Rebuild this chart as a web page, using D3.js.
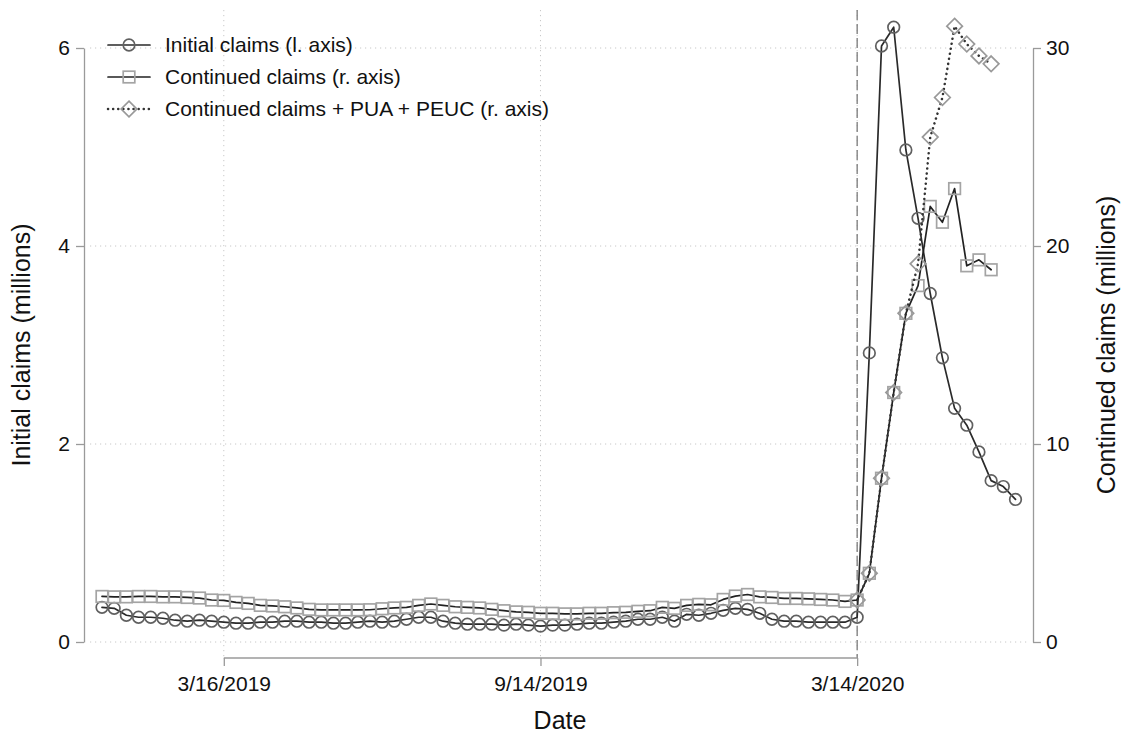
<!DOCTYPE html>
<html>
<head>
<meta charset="utf-8">
<script src="https://cdn.jsdelivr.net/npm/d3@7"></script>
<style>
  body { margin: 0; background: #fff; }
  svg { display: block; }
  text { font-family: "Liberation Sans", Arial, Helvetica, sans-serif; fill: #111; }
</style>
</head>
<body>
<svg id="chart" width="1127" height="736"></svg>
<script>
// Weekly series, first week ending 2019-01-05
const firstWeek = "2019-01-05";

// Initial claims, millions (left axis), weeks ending 1/5/2019 .. 6/13/2020
const initialClaims = [
  0.35, 0.34, 0.27, 0.25, 0.25, 0.24, 0.22, 0.21, 0.22, 0.21,
  0.20, 0.19, 0.19, 0.20, 0.20, 0.21, 0.21, 0.20, 0.20, 0.19,
  0.19, 0.20, 0.21, 0.20, 0.21, 0.23, 0.25, 0.25, 0.21, 0.19,
  0.18, 0.18, 0.18, 0.17, 0.18, 0.17, 0.16, 0.17, 0.17, 0.18,
  0.19, 0.19, 0.20, 0.21, 0.23, 0.23, 0.25, 0.21, 0.28, 0.27,
  0.29, 0.32, 0.34, 0.33, 0.29, 0.23, 0.21, 0.21, 0.20, 0.20,
  0.20, 0.20, 0.25, 2.92, 6.02, 6.21, 4.97, 4.28, 3.52, 2.87,
  2.36, 2.19, 1.92, 1.63, 1.57, 1.44
];

// Continued claims, millions (right axis), weeks ending 1/5/2019 .. 5/30/2020
const continuedClaims = [
  2.30, 2.28, 2.28, 2.30, 2.30, 2.28, 2.28, 2.25, 2.22, 2.12,
  2.10, 2.00, 1.95, 1.85, 1.82, 1.78, 1.72, 1.65, 1.62, 1.62,
  1.62, 1.62, 1.63, 1.68, 1.72, 1.75, 1.85, 1.92, 1.85, 1.78,
  1.75, 1.72, 1.65, 1.58, 1.52, 1.50, 1.45, 1.45, 1.42, 1.42,
  1.45, 1.45, 1.48, 1.50, 1.55, 1.58, 1.75, 1.70, 1.85, 1.90,
  1.88, 2.15, 2.32, 2.40, 2.28, 2.25, 2.20, 2.20, 2.18, 2.15,
  2.12, 2.05, 2.12, 3.47, 8.27, 12.6, 16.6, 18.0, 22.0, 21.2,
  22.9, 19.0, 19.3, 18.8
];

// Continued claims + PUA + PEUC, millions (right axis), weeks ending 3/14/2020 .. 5/30/2020
const pandemicFirstWeek = "2020-03-14";
const continuedPlusPUA = [
  2.12, 3.47, 8.27, 12.6, 16.6, 19.1, 25.5, 27.5, 31.1, 30.2, 29.6, 29.2
];

const leftTicks = [0, 2, 4, 6];
const rightTicks = [0, 10, 20, 30];
const dateTicks = ["2019-03-16", "2019-09-14", "2020-03-14"];
const markerDate = "2020-03-14";

const legendLabels = [
  "Initial claims (l. axis)",
  "Continued claims (r. axis)",
  "Continued claims + PUA + PEUC (r. axis)"
];
const xTitle = "Date";
const leftTitle = "Initial claims (millions)";
const rightTitle = "Continued claims (millions)";

// ---- helpers -------------------------------------------------------------
const parse = d3.utcParse("%Y-%m-%d");
const weekly = (start, values) => values.map((v, i) => ({
  date: d3.utcDay.offset(parse(start), 7 * i), value: v
}));

const seriesInitial = weekly(firstWeek, initialClaims);
const seriesContinued = weekly(firstWeek, continuedClaims);
const seriesPUA = weekly(pandemicFirstWeek, continuedPlusPUA);

// ---- layout --------------------------------------------------------------
const plot = { left: 90, right: 1028, top: 10, bottom: 658 };
const svg = d3.select("#chart");

const x = d3.scaleUtc()
  .domain([parse(firstWeek), seriesInitial[seriesInitial.length - 1].date])
  .range([102, 1015.5]);
const yL = d3.scaleLinear().domain([0, 6]).range([642, 48]);
const yR = d3.scaleLinear().domain([0, 30]).range([642, 48]);

const gridColor = "#c8c8c8";
const axisColor = "#9a9a9a";
const tickFont = 21;
const titleFont = 25;

// grid
const grid = svg.append("g");
grid.selectAll("line.h").data(leftTicks).join("line")
  .attr("x1", plot.left).attr("x2", plot.right)
  .attr("y1", d => yL(d)).attr("y2", d => yL(d))
  .attr("stroke", gridColor).attr("stroke-width", 1)
  .attr("stroke-dasharray", "1.2,3.8");
grid.selectAll("line.v").data(dateTicks.map(parse)).join("line")
  .attr("x1", d => x(d)).attr("x2", d => x(d))
  .attr("y1", plot.top).attr("y2", plot.bottom)
  .attr("stroke", gridColor).attr("stroke-width", 1)
  .attr("stroke-dasharray", "1.2,3.8");

// reference line at 3/14/2020
svg.append("line")
  .attr("x1", x(parse(markerDate))).attr("x2", x(parse(markerDate)))
  .attr("y1", plot.top).attr("y2", plot.bottom)
  .attr("stroke", "#7a7a7a").attr("stroke-width", 1.3)
  .attr("stroke-dasharray", "10,4");

// axes
function styleAxis(g) {
  g.select(".domain").attr("stroke", axisColor).attr("stroke-width", 1.3);
  g.selectAll(".tick line").attr("stroke", axisColor).attr("stroke-width", 1.3);
  g.selectAll(".tick text").attr("font-size", tickFont).attr("fill", "#111")
    .attr("font-family", "Liberation Sans, Arial, sans-serif");
}

svg.append("g").attr("transform", "translate(84,0)")
  .call(d3.axisLeft(yL).tickValues(leftTicks).tickFormat(d3.format("d"))
    .tickSize(8).tickSizeOuter(0).tickPadding(6))
  .call(styleAxis);

svg.append("g").attr("transform", "translate(1033,0)")
  .call(d3.axisRight(yR).tickValues(rightTicks).tickFormat(d3.format("d"))
    .tickSize(8).tickSizeOuter(0).tickPadding(5))
  .call(styleAxis);

const xAxisG = svg.append("g").attr("transform", `translate(0,${plot.bottom})`)
  .call(d3.axisBottom(x).tickValues(dateTicks.map(parse))
    .tickFormat(d3.utcFormat("%-m/%-d/%Y")).tickSize(8).tickSizeOuter(0).tickPadding(10))
  .call(styleAxis);
xAxisG.select(".domain").remove();
xAxisG.append("line")
  .attr("x1", x(parse(dateTicks[0]))).attr("x2", x(parse(dateTicks[dateTicks.length - 1])))
  .attr("stroke", axisColor).attr("stroke-width", 1.3);

// titles
svg.append("text").attr("x", 560).attr("y", 729).attr("text-anchor", "middle")
  .attr("font-size", titleFont).text(xTitle);
svg.append("text").attr("transform", "translate(30,345) rotate(-90)")
  .attr("text-anchor", "middle").attr("font-size", titleFont).text(leftTitle);
svg.append("text").attr("transform", "translate(1115,345) rotate(-90)")
  .attr("text-anchor", "middle").attr("font-size", titleFont).text(rightTitle);

// ---- marks ---------------------------------------------------------------
const styles = {
  initial: { line: "#2a2a2a", width: 1.7, dash: null, marker: "#606060", shape: "circle" },
  continued: { line: "#222", width: 1.7, dash: null, marker: "#a4a4a4", shape: "square" },
  pua: { line: "#333", width: 2.5, dash: "0.1,5", marker: "#999", shape: "diamond" }
};

function drawMarker(g, shape, color) {
  if (shape === "circle") {
    g.append("circle").attr("r", 5.8).attr("fill", "none")
      .attr("stroke", color).attr("stroke-width", 1.7);
  } else if (shape === "square") {
    g.append("rect").attr("x", -5.8).attr("y", -5.8).attr("width", 11.6).attr("height", 11.6)
      .attr("fill", "none").attr("stroke", color).attr("stroke-width", 1.7);
  } else {
    g.append("path").attr("d", "M0,-7.8L7.8,0L0,7.8L-7.8,0Z")
      .attr("fill", "none").attr("stroke", color).attr("stroke-width", 1.7);
  }
}

function drawSeries(data, yScale, st) {
  const line = d3.line().x(d => x(d.date)).y(d => yScale(d.value));
  svg.append("path").datum(data).attr("d", line)
    .attr("fill", "none").attr("stroke", st.line).attr("stroke-width", st.width)
    .attr("stroke-linecap", "round").attr("stroke-linejoin", "round")
    .attr("stroke-dasharray", st.dash);
  const g = svg.append("g");
  data.forEach(d => {
    const m = g.append("g").attr("transform", `translate(${x(d.date)},${yScale(d.value)})`);
    drawMarker(m, st.shape, st.marker);
  });
}

drawSeries(seriesInitial, yL, styles.initial);
drawSeries(seriesContinued, yR, styles.continued);
drawSeries(seriesPUA, yR, styles.pua);

// ---- legend --------------------------------------------------------------
const legendItems = [styles.initial, styles.continued, styles.pua];
const legend = svg.append("g");
legendItems.forEach((st, i) => {
  const cy = 45 + i * 32;
  legend.append("line").attr("x1", 108).attr("x2", 150).attr("y1", cy).attr("y2", cy)
    .attr("stroke", st.line).attr("stroke-width", st.width)
    .attr("stroke-linecap", "round").attr("stroke-dasharray", st.dash);
  const m = legend.append("g").attr("transform", `translate(129,${cy})`);
  drawMarker(m, st.shape, st.marker);
  legend.append("text").attr("x", 165).attr("y", cy + 7).attr("font-size", tickFont)
    .text(legendLabels[i]);
});
</script>
</body>
</html>
